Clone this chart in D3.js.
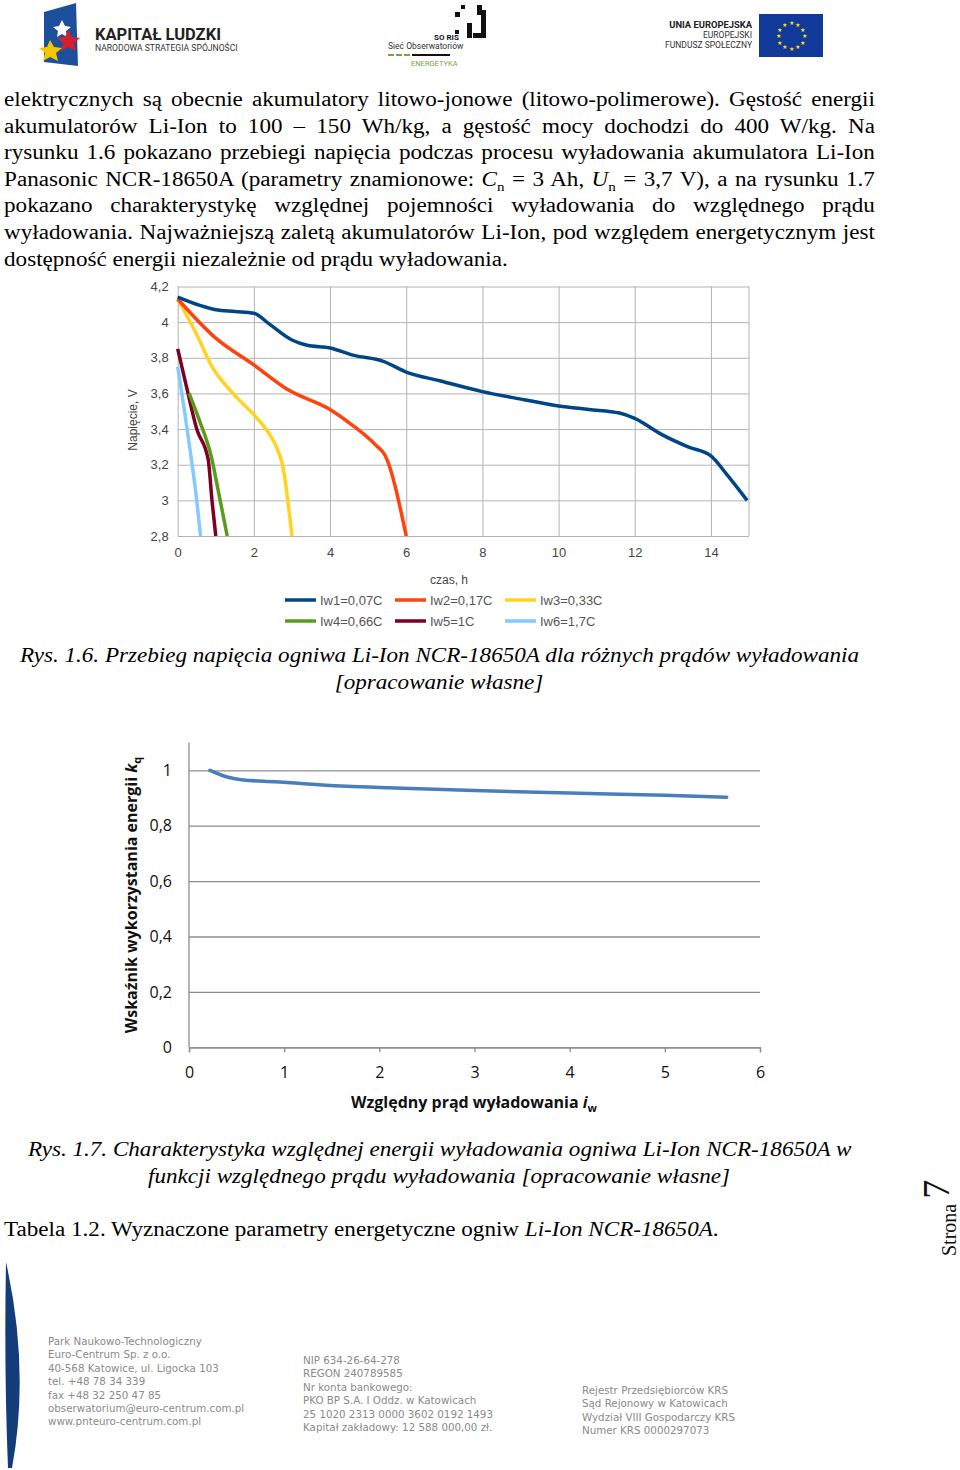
<!DOCTYPE html>
<html>
<head>
<meta charset="utf-8">
<script src="https://cdn.jsdelivr.net/npm/d3@7"></script>
<style>
  body { margin: 0; background: #fff; }
  #page { position: relative; width: 960px; height: 1470px; overflow: hidden; }
  svg { position: absolute; left: 0; top: 0; }
  #txt { position: absolute; left: 0; top: 0; width: 831px; height: 1470px; transform: scaleX(1.155); transform-origin: 0 0; }
  .ln { position: absolute; left: 3.5px; width: 754px; font-family: "Liberation Serif", serif; font-size: 20px;
        line-height: 26.6px; white-space: nowrap; color: #000; }
  .just { text-align: justify; text-align-last: justify; white-space: normal; }
  .cap { font-style: italic; }
  sub { font-size: 13px; line-height: 0; }
</style>
</head>
<body>
<div id="page"></div>
<script>
// chart 1: Li-Ion discharge, voltage vs time
const seriesNames = ["Iw1=0,07C", "Iw2=0,17C", "Iw3=0,33C", "Iw4=0,66C", "Iw5=1C", "Iw6=1,7C"];
const seriesColors = ["#004586", "#ff420e", "#ffd320", "#579d1c", "#7e0021", "#83caff"];
const iw1T = [0, 1, 1.5, 2, 2.4, 3, 3.4, 4, 4.6, 5.4, 6, 6.9, 8, 9.1, 10, 10.8, 11.6, 12, 12.7, 13.4, 14, 14.4, 14.95];
const iw1V = [4.14, 4.07, 4.06, 4.05, 3.99, 3.9, 3.87, 3.855, 3.815, 3.78, 3.72, 3.67, 3.61, 3.565, 3.53, 3.51, 3.49, 3.46, 3.37, 3.3, 3.25, 3.15, 3.0];
const iw2T = [0, 1, 2, 2.9, 4, 4.6, 5.2, 5.45, 6.0];
const iw2V = [4.13, 3.91, 3.76, 3.62, 3.51, 3.42, 3.31, 3.25, 2.8];
const iw3T = [0, 0.5, 0.9, 1.45, 2, 2.35, 2.65, 2.75, 3.0];
const iw3V = [4.13, 3.93, 3.75, 3.6, 3.48, 3.39, 3.27, 3.2, 2.8];
const iw4T = [0.3, 0.55, 0.9, 1.05, 1.3];
const iw4V = [3.6, 3.46, 3.23, 3.07, 2.8];
const iw5T = [0, 0.25, 0.5, 0.8, 0.9, 1.0];
const iw5V = [3.85, 3.62, 3.4, 3.23, 3.0, 2.8];
const iw6T = [0, 0.2, 0.38, 0.5, 0.6];
const iw6V = [3.75, 3.47, 3.2, 3.0, 2.8];
const timeTicks = [0, 2, 4, 6, 8, 10, 12, 14];
const voltTicks = [2.8, 3, 3.2, 3.4, 3.6, 3.8, 4, 4.2];

// chart 2: relative energy vs relative current
const iwRel = [0.22, 0.4, 0.57, 0.9, 1.6, 2.0, 3.0, 4.0, 5.0, 5.65];
const kq = [1.0, 0.976, 0.965, 0.959, 0.943, 0.938, 0.927, 0.918, 0.91, 0.903];
const iwTicks = [0, 1, 2, 3, 4, 5, 6];
const kqTicks = [0, 0.2, 0.4, 0.6, 0.8, 1];

const fmt = d => String(d).replace(".", ",");
const SX = 1.155; // body text in the scan is stretched horizontally

const page = d3.select("#page");
const svg = page.append("svg").attr("width", 960).attr("height", 1470);

// ---------- header logos ----------
const hdr = svg.append("g");
hdr.append("path").attr("d", "M44,12 L76,3 L78,66 L44,62 Z").attr("fill", "#1c4f9c");
hdr.append("path").attr("d", "M62,20 l3,6 6,1 -5,4 1,6 -5,-3 -5,3 1,-6 -5,-4 6,-1z").attr("fill", "#fff");
hdr.append("path").attr("d", "M68,30 l4,7 8,1 -6,5 2,8 -8,-4 -7,4 2,-8 -6,-5 8,-1z").attr("fill", "#d81e2c");
hdr.append("path").attr("d", "M50,40 l4,7 8,1 -6,5 2,8 -8,-4 -7,4 2,-8 -6,-5 8,-1z").attr("fill", "#f5c600");
hdr.append("text").attr("x", 95).attr("y", 40).attr("font-family", "Roboto, sans-serif").attr("font-size", 16.5)
  .attr("font-weight", "bold").attr("fill", "#222").text("KAPITAŁ LUDZKI");
hdr.append("text").attr("x", 95).attr("y", 51).attr("font-family", "Roboto, sans-serif").attr("font-size", 8.6)
  .attr("fill", "#333").text("NARODOWA STRATEGIA SPÓJNOŚCI");
// SO RIS
[[455, 12, 5, 5], [461, 5, 4, 4], [477, 5, 5, 10], [481, 10, 5, 28], [467, 23, 5, 15], [473, 33, 8, 5], [455, 30, 4, 4]]
  .forEach(r => hdr.append("rect").attr("x", r[0]).attr("y", r[1]).attr("width", r[2]).attr("height", r[3]).attr("fill", "#111"));
hdr.append("text").attr("x", 434).attr("y", 40).attr("font-family", "Roboto, sans-serif").attr("font-size", 8)
  .attr("font-weight", "bold").attr("fill", "#111").text("SO RIS");
hdr.append("text").attr("x", 388).attr("y", 49).attr("font-family", "Roboto, sans-serif").attr("font-size", 8.5)
  .attr("fill", "#333").text("Sieć Obserwatoriów");
[388, 396, 404].forEach(x =>
  hdr.append("rect").attr("x", x).attr("y", 54).attr("width", 6).attr("height", 2).attr("fill", "#7aa33a"));
hdr.append("rect").attr("x", 412).attr("y", 54).attr("width", 38).attr("height", 2).attr("fill", "#111");
hdr.append("text").attr("x", 411).attr("y", 66).attr("font-family", "Roboto, sans-serif").attr("font-size", 7.5)
  .attr("fill", "#7aa33a").text("ENERGETYKA");
// UE
hdr.append("text").attr("x", 752).attr("y", 28).attr("text-anchor", "end").attr("font-family", "Roboto, sans-serif")
  .attr("font-size", 9.4).attr("font-weight", "bold").attr("fill", "#222").text("UNIA EUROPEJSKA");
hdr.append("text").attr("x", 752).attr("y", 38).attr("text-anchor", "end").attr("font-family", "Roboto, sans-serif")
  .attr("font-size", 8.5).attr("fill", "#333").text("EUROPEJSKI");
hdr.append("text").attr("x", 752).attr("y", 48).attr("text-anchor", "end").attr("font-family", "Roboto, sans-serif")
  .attr("font-size", 8.5).attr("fill", "#333").text("FUNDUSZ SPOŁECZNY");
hdr.append("rect").attr("x", 759).attr("y", 14).attr("width", 64).attr("height", 43).attr("fill", "#10399a");
d3.range(12).forEach(i => {
  const a = i * Math.PI / 6;
  hdr.append("text").attr("x", 791 + 13 * Math.cos(a)).attr("y", 38 + 13 * Math.sin(a)).attr("text-anchor", "middle")
    .attr("font-size", 6).attr("fill", "#ffdd00").text("★");
});

// ---------- body text ----------
const txt = page.append("div").attr("id", "txt");
const lines = [
  "elektrycznych są obecnie akumulatory litowo-jonowe (litowo-polimerowe). Gęstość energii",
  "akumulatorów Li-Ion to 100 – 150 Wh/kg, a gęstość mocy dochodzi do 400 W/kg. Na",
  "rysunku 1.6 pokazano przebiegi napięcia podczas procesu wyładowania akumulatora Li-Ion",
  "Panasonic NCR-18650A (parametry znamionowe: <i>C</i><sub>n</sub> = 3 Ah, <i>U</i><sub>n</sub> = 3,7 V), a na rysunku 1.7",
  "pokazano charakterystykę względnej pojemności wyładowania do względnego prądu",
  "wyładowania. Najważniejszą zaletą akumulatorów Li-Ion, pod względem energetycznym jest",
  "dostępność energii niezależnie od prądu wyładowania."
];
lines.forEach((t, i) => {
  txt.append("div").attr("class", "ln" + (i < lines.length - 1 ? " just" : ""))
    .style("top", (86 + i * 26.6) + "px").html(t);
});
txt.append("div").attr("class", "ln cap").style("left", (20 / SX) + "px").style("top", "642px")
  .text("Rys. 1.6. Przebieg napięcia ogniwa Li-Ion NCR-18650A dla różnych prądów wyładowania");
txt.append("div").attr("class", "ln cap").style("left", "0px").style("width", (878 / SX) + "px").style("text-align", "center")
  .style("top", "669px").text("[opracowanie własne]");
txt.append("div").attr("class", "ln cap").style("left", (28 / SX) + "px").style("top", "1136px")
  .text("Rys. 1.7. Charakterystyka względnej energii wyładowania ogniwa Li-Ion NCR-18650A w");
txt.append("div").attr("class", "ln cap").style("left", "0px").style("width", (878 / SX) + "px").style("text-align", "center")
  .style("top", "1163px").text("funkcji względnego prądu wyładowania [opracowanie własne]");
txt.append("div").attr("class", "ln").style("top", "1216px")
  .html("Tabela 1.2. Wyznaczone parametry energetyczne ogniw <i>Li-Ion NCR-18650A</i>.");

// ---------- chart 1 ----------
const c1 = svg.append("g");
const x1 = d3.scaleLinear().domain([0, 15]).range([177.7, 749]);
const y1 = d3.scaleLinear().domain([2.8, 4.2]).range([536, 286.5]);
const grid1 = "#b3b3b3";
c1.append("g").attr("transform", "translate(0,536)")
  .call(d3.axisBottom(x1).tickValues(timeTicks).tickSize(-(536 - 286.5)).tickFormat(fmt))
  .call(g => g.select(".domain").remove())
  .call(g => g.selectAll(".tick line").attr("stroke", grid1))
  .call(g => g.selectAll(".tick text").attr("dy", "1.4em").attr("fill", "#444").attr("font-size", 13)
    .attr("font-family", "'Liberation Sans', Arial, sans-serif"));
c1.append("g").attr("transform", "translate(177.7,0)")
  .call(d3.axisLeft(y1).tickValues(voltTicks).tickSize(-(749 - 177.7)).tickPadding(9).tickFormat(fmt))
  .call(g => g.select(".domain").remove())
  .call(g => g.selectAll(".tick line").attr("stroke", grid1))
  .call(g => g.selectAll(".tick text").attr("fill", "#444").attr("font-size", 13)
    .attr("font-family", "'Liberation Sans', Arial, sans-serif"));
c1.append("line").attr("x1", 749).attr("x2", 749).attr("y1", 286.5).attr("y2", 536).attr("stroke", grid1);

const seriesT = [iw1T, iw2T, iw3T, iw4T, iw5T, iw6T];
const seriesV = [iw1V, iw2V, iw3V, iw4V, iw5V, iw6V];
const line1 = d3.line().x(d => x1(d[0])).y(d => y1(d[1])).curve(d3.curveMonotoneX);
[5, 4, 3, 2, 1, 0].forEach(i => {
  c1.append("path").datum(d3.zip(seriesT[i], seriesV[i])).attr("d", line1)
    .attr("fill", "none").attr("stroke", seriesColors[i]).attr("stroke-width", 3.5).attr("stroke-linejoin", "round");
});
c1.append("text").attr("transform", "translate(137,420) rotate(-90)").attr("text-anchor", "middle")
  .attr("font-family", "'Liberation Sans', Arial, sans-serif").attr("font-size", 12).attr("fill", "#444").text("Napięcie, V");
c1.append("text").attr("x", 449).attr("y", 584).attr("text-anchor", "middle")
  .attr("font-family", "'Liberation Sans', Arial, sans-serif").attr("font-size", 12).attr("fill", "#444").text("czas, h");
const leg = c1.selectAll(".leg").data(seriesNames).enter().append("g")
  .attr("transform", (d, i) => `translate(${285 + (i % 3) * 110},${i < 3 ? 600 : 621})`);
leg.append("line").attr("x1", 0).attr("x2", 31).attr("stroke", (d, i) => seriesColors[i]).attr("stroke-width", 3.5);
leg.append("text").attr("x", 35).attr("y", 5).attr("font-family", "'Liberation Sans', Arial, sans-serif")
  .attr("font-size", 13).attr("fill", "#555").text(d => d);

// ---------- chart 2 ----------
const c2 = svg.append("g");
const x2 = d3.scaleLinear().domain([0, 6]).range([189, 760]);
const y2 = d3.scaleLinear().domain([0, 1.1]).range([1047.3, 742.6]);
const grid2 = "#8c8c8c";
const sans = "'Open Sans', Carlito, sans-serif";
c2.append("g").attr("transform", "translate(189,0)")
  .call(d3.axisLeft(y2).tickValues(kqTicks).tickSize(-(760 - 189)).tickPadding(17).tickFormat(fmt))
  .call(g => g.select(".domain").remove())
  .call(g => g.selectAll(".tick line").attr("stroke", grid2).attr("stroke-width", 1.3))
  .call(g => g.selectAll(".tick text").attr("fill", "#111").attr("font-size", 16).attr("font-family", sans));
c2.append("g").attr("transform", "translate(0,1047.3)")
  .call(d3.axisBottom(x2).tickValues(iwTicks).tickSize(5).tickPadding(14).tickFormat(fmt))
  .call(g => g.select(".domain").attr("stroke", grid2).attr("stroke-width", 1.3))
  .call(g => g.selectAll(".tick line").attr("stroke", grid2).attr("stroke-width", 1.3))
  .call(g => g.selectAll(".tick text").attr("fill", "#111").attr("font-size", 16).attr("font-family", sans));
c2.append("line").attr("x1", 189).attr("x2", 189).attr("y1", 742.6).attr("y2", 1047.3)
  .attr("stroke", grid2).attr("stroke-width", 1.3);
c2.append("path").datum(d3.zip(iwRel, kq))
  .attr("d", d3.line().x(d => x2(d[0])).y(d => y2(d[1])).curve(d3.curveMonotoneX))
  .attr("fill", "none").attr("stroke", "#4a7ebb").attr("stroke-width", 3.5).attr("stroke-linecap", "round");
const yl = c2.append("text").attr("transform", "translate(137,895) rotate(-90)").attr("text-anchor", "middle")
  .attr("font-family", sans).attr("font-size", 16).attr("font-weight", "bold").attr("fill", "#111");
yl.append("tspan").text("Wskaźnik wykorzystania energii ");
yl.append("tspan").attr("font-style", "italic").text("k");
yl.append("tspan").attr("font-size", 11).attr("dy", 4).text("q");
const xl = c2.append("text").attr("x", 474).attr("y", 1108).attr("text-anchor", "middle")
  .attr("font-family", sans).attr("font-size", 16).attr("font-weight", "bold").attr("fill", "#111");
xl.append("tspan").text("Względny prąd wyładowania ");
xl.append("tspan").attr("font-style", "italic").text("i");
xl.append("tspan").attr("font-size", 11).attr("dy", 4).text("w");

// ---------- page number ----------
const pn = svg.append("text").attr("transform", "translate(956,1256) rotate(-90)")
  .attr("font-family", "'Liberation Serif', serif").attr("fill", "#111");
pn.append("tspan").attr("font-size", 20).text("Strona ");
pn.append("tspan").attr("font-size", 38).attr("dy", -7).text("7");

// ---------- footer ----------
svg.append("path").attr("d", "M6,1262 Q30,1370 12,1468 L8,1468 Q4,1370 6,1262 Z").attr("fill", "#123d7a");
const foot = (x, y0, arr) => arr.forEach((t, i) => svg.append("text").attr("x", x).attr("y", y0 + i * 13.4)
  .attr("font-family", "'DejaVu Sans', sans-serif").attr("font-size", 10.3).attr("fill", "#8a8a8a").text(t));
foot(48, 1345, ["Park Naukowo-Technologiczny", "Euro-Centrum Sp. z o.o.", "40-568 Katowice, ul. Ligocka 103",
  "tel. +48 78 34 339", "fax +48 32 250 47 85", "obserwatorium@euro-centrum.com.pl", "www.pnteuro-centrum.com.pl"]);
foot(303, 1364, ["NIP 634-26-64-278", "REGON 240789585", "Nr konta bankowego:", "PKO BP S.A. I Oddz. w Katowicach",
  "25 1020 2313 0000 3602 0192 1493", "Kapitał zakładowy: 12 588 000,00 zł."]);
foot(582, 1394, ["Rejestr Przedsiębiorców KRS", "Sąd Rejonowy w Katowicach", "Wydział VIII Gospodarczy KRS", "Numer KRS 0000297073"]);
</script>
</body>
</html>
